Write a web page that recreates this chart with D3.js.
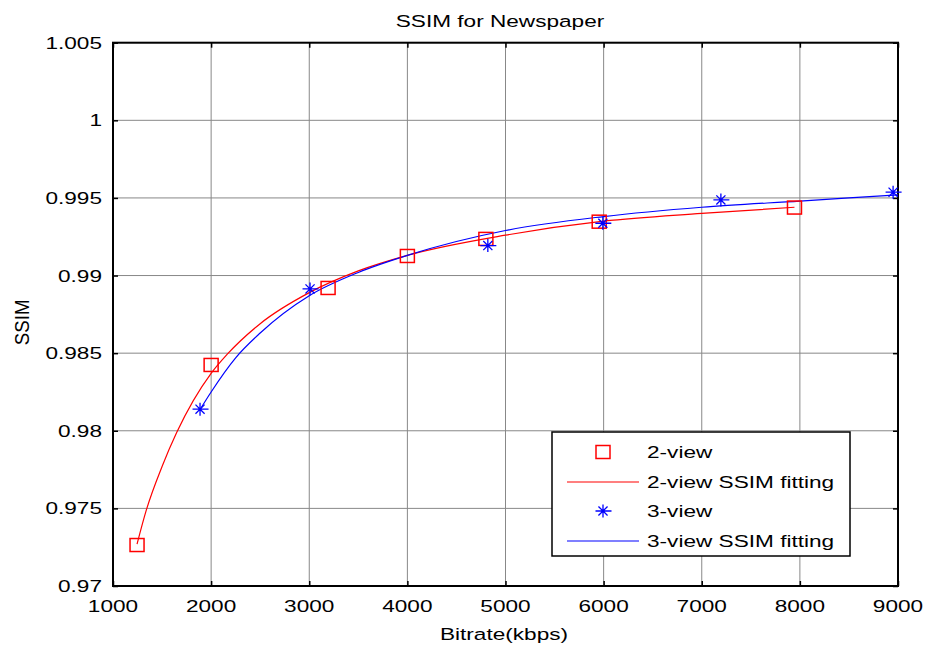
<!DOCTYPE html>
<html>
<head>
<meta charset="utf-8">
<script src="https://cdn.jsdelivr.net/npm/d3@7"></script>
<style>
  body { margin: 0; background: #fff; }
  text { font-family: "Liberation Sans", Arial, sans-serif; fill: #000; }
</style>
</head>
<body>
<div id="chart"></div>
<script>
// measured points (kbps, SSIM)
var twoViewX = [1245, 2000, 3192, 4000, 4800, 5955, 7945];
var twoViewY = [0.97264, 0.98424, 0.98920, 0.99126, 0.99236, 0.99347, 0.99438];

var threeViewX = [1887, 3008, 4820, 5992, 7195, 8950];
var threeViewY = [0.98139, 0.98914, 0.99193, 0.99337, 0.99487, 0.99537];

// fitted curves
var twoFitX = [1245, 1340, 1500, 1650, 2000, 2160, 2500, 3000, 3500, 4000, 5000, 6000, 7000, 7945];
var twoFitY = [0.9727, 0.9749, 0.9777, 0.9799, 0.9837, 0.9849, 0.9869, 0.9889, 0.9903, 0.9913, 0.9926, 0.9935, 0.9940, 0.9944];

var threeFitX = [1900, 2000, 2250, 2500, 3000, 3500, 4000, 5000, 6000, 7000, 8000, 9000];
var threeFitY = [0.9815, 0.9825, 0.9847, 0.9863, 0.9887, 0.9902, 0.9913, 0.9929, 0.9938, 0.9944, 0.9948, 0.9952];

var xTicks = [1000, 2000, 3000, 4000, 5000, 6000, 7000, 8000, 9000];
var yTicks = [0.97, 0.975, 0.98, 0.985, 0.99, 0.995, 1, 1.005];
var legendLabels = ["2-view", "2-view SSIM fitting", "3-view", "3-view SSIM fitting"];

var width = 927, height = 649;
var pLeft = 113, pRight = 898, pTop = 42.7, pBottom = 586;
var stretch = 1.33;   // text in the figure is wider than it is tall
var fontSize = 17;

var xScale = d3.scaleLinear().domain([1000, 9000]).range([pLeft, pRight]);
var yScale = d3.scaleLinear().domain([0.97, 1.005]).range([pBottom, pTop]);

var svg = d3.select("#chart").append("svg")
  .attr("width", width)
  .attr("height", height);

function label(g, x, y, str, anchor) {
  return g.append("text")
    .attr("transform", `translate(${x},${y}) scale(${stretch},1)`)
    .attr("text-anchor", anchor || "middle")
    .style("font-size", fontSize + "px")
    .text(str);
}

/* grid */
var grid = svg.append("g");
grid.selectAll(".gx").data(xTicks).enter().append("line")
  .attr("x1", d => xScale(d)).attr("x2", d => xScale(d))
  .attr("y1", pTop).attr("y2", pBottom)
  .attr("stroke", "#888").attr("stroke-width", 1);
grid.selectAll(".gy").data(yTicks).enter().append("line")
  .attr("x1", pLeft).attr("x2", pRight)
  .attr("y1", d => yScale(d)).attr("y2", d => yScale(d))
  .attr("stroke", "#888").attr("stroke-width", 1);

/* axes: inward ticks on all sides */
var tl = 5;
svg.append("g").attr("transform", `translate(0,${pBottom})`)
  .call(d3.axisTop(xScale).tickValues(xTicks).tickSize(tl).tickFormat(""))
  .call(g => g.select(".domain").remove());
svg.append("g").attr("transform", `translate(0,${pTop})`)
  .call(d3.axisBottom(xScale).tickValues(xTicks).tickSize(tl).tickFormat(""))
  .call(g => g.select(".domain").remove());
svg.append("g").attr("transform", `translate(${pLeft},0)`)
  .call(d3.axisRight(yScale).tickValues(yTicks).tickSize(tl).tickFormat(""))
  .call(g => g.select(".domain").remove());
svg.append("g").attr("transform", `translate(${pRight},0)`)
  .call(d3.axisLeft(yScale).tickValues(yTicks).tickSize(tl).tickFormat(""))
  .call(g => g.select(".domain").remove());
svg.selectAll(".tick line").attr("stroke", "#000").attr("stroke-width", 1.5);

svg.append("rect")
  .attr("x", pLeft).attr("y", pTop)
  .attr("width", pRight - pLeft).attr("height", pBottom - pTop)
  .attr("fill", "none").attr("stroke", "#000").attr("stroke-width", 2);

/* tick labels */
var labels = svg.append("g");
xTicks.forEach(t => label(labels, xScale(t), 612, String(t)));
yTicks.forEach(t => label(labels, 102, yScale(t) + 6, String(t), "end"));

/* titles */
label(svg, 500, 27, "SSIM for Newspaper");
label(svg, 504, 640, "Bitrate(kbps)");
svg.append("text")
  .attr("transform", `translate(29,${(pTop + pBottom) / 2 + 8}) rotate(-90) scale(1.1,1.2)`)
  .attr("text-anchor", "middle")
  .style("font-size", fontSize + "px")
  .text("SSIM");

/* fitted curves */
var line = d3.line()
  .curve(d3.curveMonotoneX)
  .x(d => xScale(d[0]))
  .y(d => yScale(d[1]));

var plot = svg.append("g");
plot.append("path")
  .attr("d", line(d3.zip(twoFitX, twoFitY)))
  .attr("fill", "none").attr("stroke", "#ff0000").attr("stroke-width", 1.2);
plot.append("path")
  .attr("d", line(d3.zip(threeFitX, threeFitY)))
  .attr("fill", "none").attr("stroke", "#0000ff").attr("stroke-width", 1.2);

/* markers */
function square(g, x, y) {
  g.append("rect")
    .attr("x", x - 7).attr("y", y - 6.5)
    .attr("width", 14).attr("height", 13)
    .attr("fill", "none").attr("stroke", "#ff0000").attr("stroke-width", 1.5);
}
function star(g, x, y) {
  var r = 6.5;
  var p = `M${x - r - 1},${y}H${x + r + 2}M${x},${y - r}V${y + r}` +
    `M${x - r * 0.7},${y - r * 0.7}L${x + r * 0.7},${y + r * 0.7}` +
    `M${x - r * 0.7},${y + r * 0.7}L${x + r * 0.7},${y - r * 0.7}`;
  g.append("path").attr("d", p)
    .attr("fill", "none").attr("stroke", "#0000ff").attr("stroke-width", 1.3);
}

d3.zip(twoViewX, twoViewY).forEach(d => square(plot, xScale(d[0]), yScale(d[1])));
d3.zip(threeViewX, threeViewY).forEach(d => star(plot, xScale(d[0]), yScale(d[1])));

/* legend */
var lg = svg.append("g");
lg.append("rect")
  .attr("x", 552).attr("y", 432)
  .attr("width", 298).attr("height", 124)
  .attr("fill", "#fff").attr("stroke", "#000").attr("stroke-width", 1.5);
var rowY = [452, 482, 511, 541];
square(lg, 603, rowY[0]);
lg.append("line").attr("x1", 567).attr("x2", 639).attr("y1", rowY[1]).attr("y2", rowY[1])
  .attr("stroke", "#ff0000").attr("stroke-width", 1.2);
star(lg, 603, rowY[2]);
lg.append("line").attr("x1", 567).attr("x2", 639).attr("y1", rowY[3]).attr("y2", rowY[3])
  .attr("stroke", "#0000ff").attr("stroke-width", 1.2);
legendLabels.forEach((s, i) => label(lg, 647, rowY[i] + 6, s, "start"));
</script>
</body>
</html>
